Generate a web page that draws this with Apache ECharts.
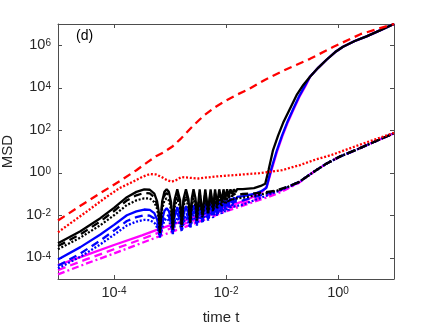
<!DOCTYPE html>
<html><head><meta charset="utf-8">
<script src="https://cdn.jsdelivr.net/npm/echarts@6.0.0/dist/echarts.min.js"></script>
<style>html,body{margin:0;padding:0;background:#fff}#c{width:436px;height:327px}</style>
</head><body><div id="c"></div>
<script>
// tick values
const xTicks = [1e-4, 1e-2, 1];
const yTicks = [1e-4, 1e-2, 1, 1e2, 1e4, 1e6];

// series values, stored as [log10(time), log10(MSD)]
const redDashed = [[-5,-2.25],[-4.6,-1.55],[-4.25,-0.97],[-3.9,-0.4],[-3.6,0.12],[-3.4,0.5],[-3.25,0.78],[-3.1,0.98],[-2.95,1.25],[-2.8,1.62],[-2.6,2.18],[-2.4,2.68],[-2.2,3.08],[-2.0,3.4],[-1.8,3.68],[-1.6,3.92],[-1.3,4.38],[-0.92,4.87],[-0.5,5.36],[-0.08,5.93],[0.4,6.52],[1.0,7.0]];
const redDotted = [[-5,-2.8],[-4.5,-1.85],[-4.13,-1.13],[-3.9,-0.72],[-3.66,-0.42],[-3.5,-0.2],[-3.36,-0.06],[-3.25,-0.08],[-3.15,-0.2],[-3.05,-0.35],[-2.97,-0.42],[-2.9,-0.36],[-2.8,-0.2],[-2.72,-0.22],[-2.5,-0.27],[-2.2,-0.18],[-1.8,-0.1],[-1.4,-0.02],[-1.0,0.12],[-0.68,0.36],[-0.4,0.62],[-0.1,0.85],[0.21,1.15],[0.5,1.42],[1.0,1.88]];

const upperTail = [[-0.5,4.52],[-0.35,4.95],[-0.2,5.33],[-0.05,5.68],[0.09,5.93],[0.3,6.2],[0.51,6.42],[0.75,6.7],[1.0,7.0]];
const lowerTail = [[-0.55,-0.17],[-0.4,0.1],[-0.2,0.44],[0.04,0.77],[0.3,1.05],[0.6,1.4],[1.0,1.86]];

const blackSolid = [[-5,-3.32],[-4.6,-2.75],[-4.25,-2.15],[-4.0,-1.65],[-3.77,-1.15],[-3.6,-0.9],[-3.46,-0.78],[-3.36,-0.8],[-3.28,-0.98],[-3.23,-1.35],[-3.2,-1.85],[-3.18,-2.69],
 [-3.14,-1.35],[-3.1,-0.9],[-3.06,-0.78],[-3.02,-0.9],[-2.98,-1.4],[-2.95,-2.55],
 [-2.92,-1.3],[-2.87,-0.78],[-2.82,-1.3],[-2.79,-2.4],
 [-2.76,-1.25],[-2.715,-0.78],[-2.67,-1.25],[-2.64,-2.25],
 [-2.61,-1.2],[-2.58,-0.78],[-2.545,-1.2],[-2.52,-2.1],
 [-2.47,-0.78],[-2.42,-1.95],[-2.37,-0.78],[-2.32,-1.8],[-2.275,-0.78],[-2.23,-1.65],[-2.195,-0.78],[-2.16,-1.5],[-2.12,-0.78],[-2.08,-1.35],[-2.045,-0.78],[-2.01,-1.2],[-1.98,-0.78],[-1.95,-1.1],[-1.92,-0.78],[-1.89,-1.0],[-1.86,-0.78],[-1.83,-0.92],[-1.80,-0.77],[-1.77,-0.85],
 [-1.7,-0.77],[-1.5,-0.72],[-1.38,-0.62],[-1.3,-0.52],[-1.24,0.13],[-1.16,1.07],[-1.07,1.75],[-0.98,2.35],[-0.86,3.0],[-0.74,3.65],[-0.62,4.13]];
const blackDashed = [[-5,-3.45],[-4.6,-2.9],[-4.25,-2.3],[-4.0,-1.8],[-3.77,-1.3],[-3.6,-1.06],[-3.46,-0.95],[-3.36,-0.97],[-3.28,-1.15],[-3.23,-1.5],[-3.2,-2.0],[-3.18,-2.75],
 [-3.14,-1.5],[-3.1,-1.07],[-3.06,-0.95],[-3.02,-1.07],[-2.98,-1.55],[-2.95,-2.6],
 [-2.92,-1.45],[-2.87,-0.95],[-2.82,-1.45],[-2.79,-2.45],
 [-2.76,-1.4],[-2.715,-0.95],[-2.67,-1.4],[-2.64,-2.3],
 [-2.61,-1.35],[-2.58,-0.95],[-2.545,-1.35],[-2.52,-2.15],
 [-2.47,-0.95],[-2.42,-2.0],[-2.37,-0.95],[-2.32,-1.85],[-2.275,-0.95],[-2.23,-1.7],[-2.195,-0.95],[-2.16,-1.55],[-2.12,-0.95],[-2.08,-1.42],[-2.045,-0.95],[-2.01,-1.3],[-1.98,-0.95],[-1.95,-1.2],[-1.92,-0.95],[-1.89,-1.12],[-1.86,-0.96],[-1.83,-1.06],[-1.80,-0.97],
 [-1.7,-1.0],[-1.5,-0.97],[-1.3,-0.92],[-1.1,-0.83],[-0.9,-0.66],[-0.7,-0.44]];
const blackDotted = [[-5,-3.6],[-4.6,-3.05],[-4.25,-2.48],[-4.0,-2.0],[-3.77,-1.52],[-3.6,-1.3],[-3.46,-1.2],[-3.36,-1.21],[-3.28,-1.38],[-3.23,-1.7],[-3.2,-2.15],[-3.18,-2.85],
 [-3.14,-1.7],[-3.1,-1.3],[-3.06,-1.2],[-3.02,-1.3],[-2.98,-1.75],[-2.95,-2.68],
 [-2.92,-1.65],[-2.87,-1.2],[-2.82,-1.65],[-2.79,-2.55],
 [-2.76,-1.6],[-2.715,-1.2],[-2.67,-1.6],[-2.64,-2.4],
 [-2.61,-1.55],[-2.58,-1.2],[-2.545,-1.55],[-2.52,-2.25],
 [-2.47,-1.2],[-2.42,-2.1],[-2.37,-1.2],[-2.32,-1.95],[-2.275,-1.2],[-2.23,-1.82],[-2.195,-1.2],[-2.16,-1.7],[-2.12,-1.2],[-2.08,-1.58],[-2.045,-1.2],[-2.01,-1.48],[-1.98,-1.2],[-1.95,-1.4],[-1.92,-1.2],[-1.89,-1.33],[-1.86,-1.2],[-1.83,-1.28],[-1.80,-1.2],
 [-1.7,-1.18],[-1.5,-1.08],[-1.3,-0.98],[-1.1,-0.85],[-0.9,-0.67],[-0.7,-0.44]];

const blueSolid = [[-5,-4.08],[-4.6,-3.5],[-4.25,-2.92],[-4.0,-2.45],[-3.77,-2.0],[-3.6,-1.82],[-3.46,-1.73],[-3.36,-1.75],[-3.28,-1.9],[-3.23,-2.2],[-3.2,-2.55],[-3.18,-3.0],
 [-3.14,-2.2],[-3.1,-1.8],[-3.06,-1.67],[-3.02,-1.8],[-2.98,-2.2],[-2.95,-2.8],
 [-2.92,-2.1],[-2.87,-1.62],[-2.82,-2.05],[-2.79,-2.65],
 [-2.76,-2.0],[-2.715,-1.57],[-2.67,-1.95],[-2.64,-2.5],
 [-2.61,-1.9],[-2.58,-1.52],[-2.545,-1.85],[-2.52,-2.38],
 [-2.47,-1.47],[-2.42,-2.25],[-2.37,-1.42],[-2.32,-2.12],[-2.275,-1.38],[-2.23,-2.0],[-2.195,-1.34],[-2.16,-1.88],[-2.12,-1.3],[-2.08,-1.76],[-2.045,-1.26],[-2.01,-1.64],[-1.98,-1.22],[-1.95,-1.52],[-1.92,-1.19],[-1.89,-1.42],[-1.86,-1.16],[-1.83,-1.32],[-1.80,-1.14],
 [-1.7,-1.1],[-1.5,-1.0],[-1.38,-0.88],[-1.28,-0.72],[-1.2,0.1],[-1.09,1.07],[-1.0,1.75],[-0.91,2.35],[-0.8,3.0],[-0.69,3.62],[-0.59,4.1]];
const blueDashed = [[-5,-4.38],[-4.6,-3.8],[-4.25,-3.2],[-4.0,-2.72],[-3.77,-2.27],[-3.6,-2.09],[-3.46,-2.0],[-3.36,-2.02],[-3.28,-2.15],[-3.23,-2.4],[-3.2,-2.7],[-3.18,-3.02],
 [-3.14,-2.4],[-3.1,-2.05],[-3.06,-1.95],[-3.02,-2.05],[-2.98,-2.4],[-2.95,-2.85],
 [-2.92,-2.3],[-2.87,-1.9],[-2.82,-2.25],[-2.79,-2.7],
 [-2.76,-2.2],[-2.715,-1.85],[-2.67,-2.15],[-2.64,-2.55],
 [-2.61,-2.1],[-2.58,-1.8],[-2.545,-2.05],[-2.52,-2.42],
 [-2.47,-1.75],[-2.42,-2.3],[-2.37,-1.7],[-2.32,-2.18],[-2.275,-1.64],[-2.23,-2.06],[-2.195,-1.58],[-2.16,-1.95],[-2.12,-1.53],[-2.08,-1.84],[-2.045,-1.48],[-2.01,-1.73],[-1.98,-1.44],[-1.95,-1.63],[-1.92,-1.4],[-1.89,-1.54],[-1.86,-1.37],[-1.83,-1.46],[-1.80,-1.35],
 [-1.7,-1.3],[-1.5,-1.15],[-1.3,-1.0],[-1.1,-0.86],[-0.9,-0.67],[-0.7,-0.44]];
const blueDotted = [[-5,-4.5],[-4.6,-3.95],[-4.25,-3.38],[-4.0,-2.92],[-3.77,-2.48],[-3.6,-2.3],[-3.46,-2.22],[-3.36,-2.23],[-3.28,-2.35],[-3.23,-2.58],[-3.2,-2.82],[-3.18,-3.05],
 [-3.14,-2.6],[-3.1,-2.25],[-3.06,-2.15],[-3.02,-2.25],[-2.98,-2.55],[-2.95,-2.88],
 [-2.92,-2.5],[-2.87,-2.1],[-2.82,-2.45],[-2.79,-2.75],
 [-2.76,-2.4],[-2.715,-2.05],[-2.67,-2.35],[-2.64,-2.6],
 [-2.61,-2.3],[-2.58,-2.0],[-2.545,-2.25],[-2.52,-2.48],
 [-2.47,-1.95],[-2.42,-2.36],[-2.37,-1.9],[-2.32,-2.24],[-2.275,-1.85],[-2.23,-2.12],[-2.195,-1.8],[-2.16,-2.02],[-2.12,-1.75],[-2.08,-1.92],[-2.045,-1.7],[-2.01,-1.84],[-1.98,-1.66],[-1.95,-1.76],[-1.92,-1.62],[-1.89,-1.69],[-1.86,-1.59],[-1.83,-1.63],[-1.80,-1.56],
 [-1.7,-1.5],[-1.5,-1.3],[-1.3,-1.1],[-1.1,-0.9],[-0.9,-0.68],[-0.7,-0.45]];

const magentaSolid = [[-5,-4.35],[-4.5,-3.88],[-4.0,-3.4],[-3.5,-2.95],[-3.2,-2.65],[-2.8,-2.3],[-2.4,-1.95],[-2.0,-1.62],[-1.7,-1.35],[-1.5,-1.12],[-1.35,-0.88],[-1.27,-0.65],[-1.19,0.1],[-1.08,1.07],[-0.99,1.75],[-0.9,2.35],[-0.79,3.0],[-0.68,3.62],[-0.58,4.08]];
const magentaDashed = [[-5,-4.58],[-4.5,-4.08],[-4.0,-3.6],[-3.5,-3.12],[-3.2,-2.82],[-2.8,-2.45],[-2.4,-2.08],[-2.0,-1.72],[-1.7,-1.45],[-1.4,-1.18],[-1.1,-0.92],[-0.9,-0.7],[-0.7,-0.46]];
const magentaDashDot = [[-5,-4.78],[-4.5,-4.28],[-4.0,-3.8],[-3.5,-3.3],[-3.2,-3.0],[-2.8,-2.62],[-2.4,-2.22],[-2.0,-1.82],[-1.7,-1.55],[-1.4,-1.28],[-1.1,-1.0],[-0.9,-0.75],[-0.7,-0.48]];

const P = a => a.map(p => [Math.pow(10, p[0]), Math.pow(10, p[1])]);
const FONT = 'Liberation Sans, Arial, Helvetica, sans-serif';
const DASH = [8, 5], DOT = [2, 1.8], DASHDOT = [7, 3, 2, 3];

const mk = (name, data, color, type, z) => ({
  name, type: 'line', data: P(data), showSymbol: false, symbol: 'none',
  xAxisIndex: 0, yAxisIndex: 0, z: z, clip: true, animation: false,
  lineStyle: { color, width: 2.3, type }
});

const series = [
  mk('mDD', magentaDashDot.concat(lowerTail), '#ff00ff', DASHDOT, 2),
  mk('mD', magentaDashed.concat(lowerTail), '#ff00ff', DASH, 2),
  mk('mS', magentaSolid.concat(upperTail), '#ff00ff', 'solid', 2),
  mk('bDt', blueDotted.concat(lowerTail), '#0000ff', DOT, 3),
  mk('bD', blueDashed.concat(lowerTail), '#0000ff', DASH, 3),
  mk('bS', blueSolid.concat(upperTail), '#0000ff', 'solid', 3),
  mk('kDt', blackDotted.concat(lowerTail), '#000000', DOT, 4),
  mk('kD', blackDashed.concat(lowerTail), '#000000', DASH, 4),
  mk('kS', blackSolid.concat(upperTail), '#000000', 'solid', 4),
  mk('rDt', redDotted, '#ff0000', DOT, 5),
  mk('rD', redDashed, '#ff0000', DASH, 5)
];

const supLabel = v => { const e = Math.round(Math.log10(v)); return '{b|10}{s|' + e + '}'; };
const rich = {
  b: { fontSize: 14.5, lineHeight: 14, padding: [4, 0, 0, 0], verticalAlign: 'bottom', fontFamily: FONT, color: '#262626' },
  s: { fontSize: 10, lineHeight: 10, verticalAlign: 'top', fontFamily: FONT, color: '#262626' }
};
const axLine = { show: true, lineStyle: { color: '#4d4d4d', width: 1 } };

const chart = echarts.init(document.getElementById('c'), null, { renderer: 'canvas' });
chart.setOption({
  backgroundColor: '#ffffff',
  animation: false,
  grid: { left: 58, right: 42, top: 24, bottom: 48, containLabel: false, outerBoundsMode: 'none' },
  xAxis: [
    { type: 'log', logBase: 10, min: 1e-5, max: 10, position: 'bottom',
      axisLine: axLine, splitLine: { show: false }, minorTick: { show: false },
      axisTick: { show: true, inside: true, length: 4, customValues: xTicks, lineStyle: { color: '#4d4d4d' } },
      axisLabel: { show: true, margin: 7, customValues: xTicks, formatter: supLabel, rich: rich },
      name: 'time t', nameLocation: 'middle', nameGap: 31,
      nameTextStyle: { fontSize: 15, fontFamily: FONT, color: '#262626', padding: [0, 10, 0, 0] } },
    { type: 'log', logBase: 10, min: 1e-5, max: 10, position: 'top',
      axisLine: axLine, splitLine: { show: false },
      axisTick: { show: true, inside: true, length: 4, customValues: xTicks, lineStyle: { color: '#4d4d4d' } },
      axisLabel: { show: false } }
  ],
  yAxis: [
    { type: 'log', logBase: 10, min: 1e-5, max: 1e7, position: 'left',
      axisLine: axLine, splitLine: { show: false },
      axisTick: { show: true, inside: true, length: 4, customValues: yTicks, lineStyle: { color: '#4d4d4d' } },
      axisLabel: { show: true, margin: 7, customValues: yTicks, formatter: supLabel, rich: rich },
      name: 'MSD', nameLocation: 'middle', nameGap: 40,
      nameTextStyle: { fontSize: 15, fontFamily: FONT, color: '#262626' } },
    { type: 'log', logBase: 10, min: 1e-5, max: 1e7, position: 'right',
      axisLine: axLine, splitLine: { show: false },
      axisTick: { show: true, inside: true, length: 4, customValues: yTicks, lineStyle: { color: '#4d4d4d' } },
      axisLabel: { show: false } }
  ],
  graphic: [
    { type: 'text', left: 76, top: 29, style: { text: '(d)', font: '14px ' + FONT, fill: '#000' } }
  ],
  series: series
});
</script>
</body></html>
